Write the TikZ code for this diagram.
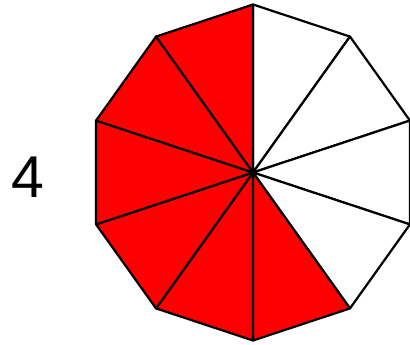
\documentclass[tikz,border=0pt]{standalone}
\usepackage{fontspec}
\setmainfont{Liberation Sans}
\usetikzlibrary{calc,positioning}
\definecolor{sectorred}{RGB}{255,0,0}

\begin{document}
\begin{tikzpicture}[
    x=1pt, y=1pt,
    sector/.style={draw=black, line width=2.2pt, line join=round},
    shaded/.style={sector, fill=sectorred},
    blank/.style={sector, fill=white},
    count/.style={inner sep=0pt, font=\fontsize{59}{59}\selectfont}
]
\useasboundingbox (0,0) rectangle (410,345);

% Decagon corners, clockwise from the top
\coordinate (centre) at (253,172.5);
\foreach \i in {0,...,9}
    \coordinate (v\i) at ($(centre)+({90-36*\i}:165 and 168)$);

% Sectors
\foreach \i/\j in {0/1,1/2,2/3,3/4}
    \draw[blank] (centre) -- (v\i) -- (v\j) -- cycle;
\foreach \i/\j in {4/5,5/6,6/7,7/8,8/9,9/0}
    \draw[shaded] (centre) -- (v\i) -- (v\j) -- cycle;

% Label
\node[count] (number) at (28,168) {4};

\end{tikzpicture}
\end{document}
